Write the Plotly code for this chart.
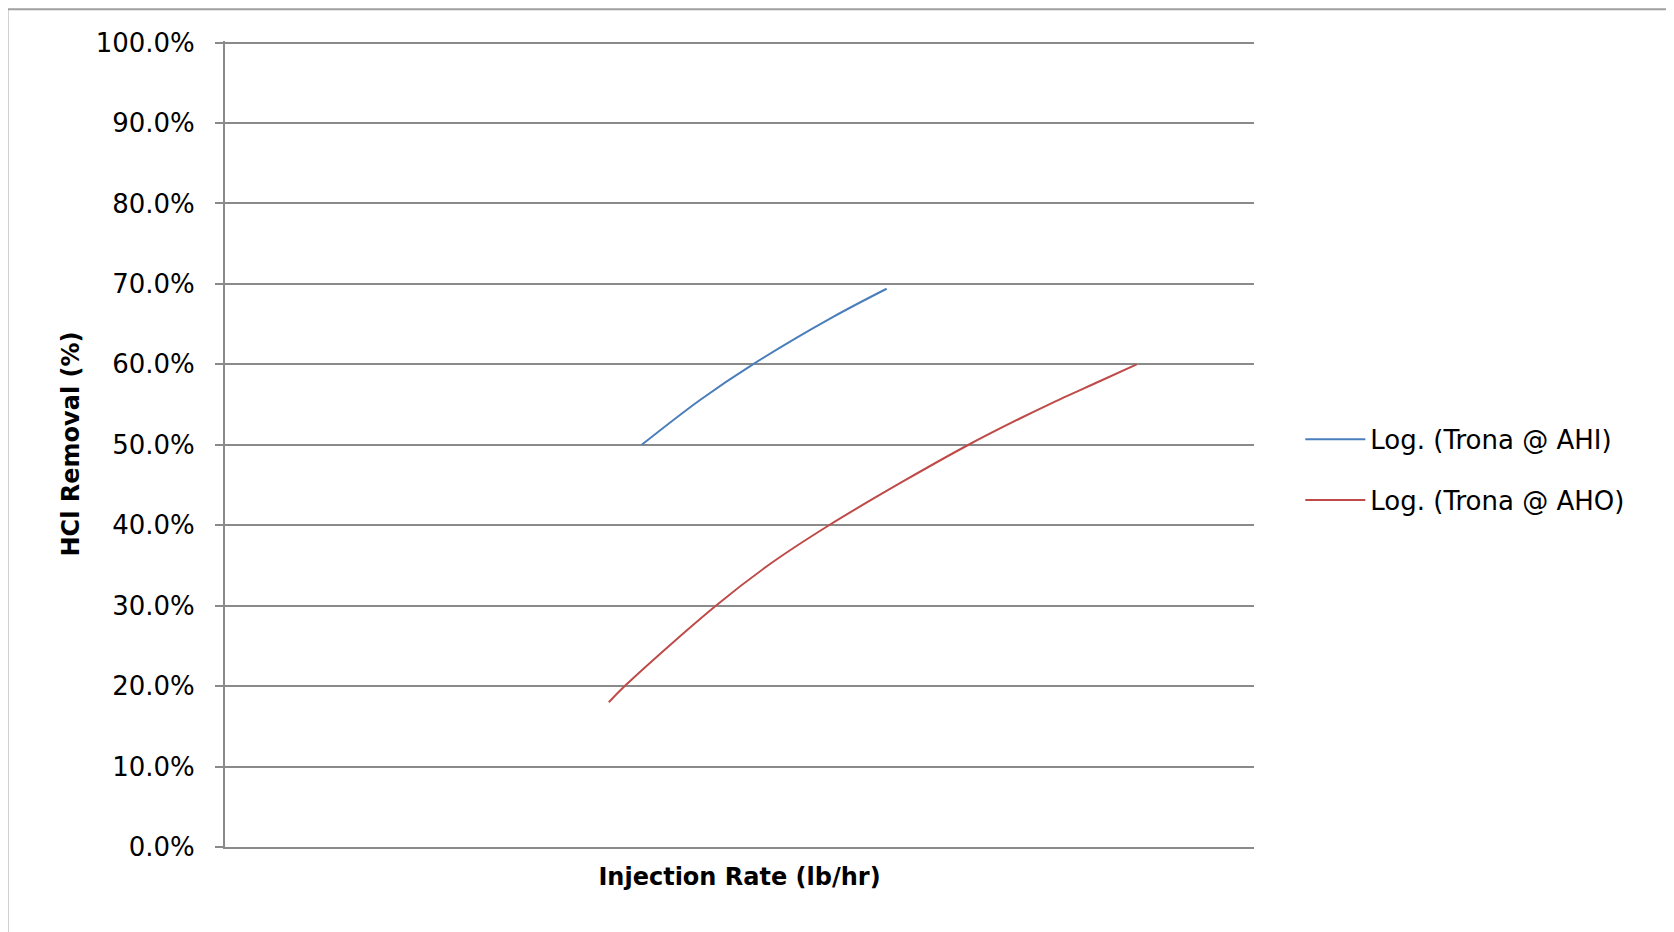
import plotly.graph_objects as go

# Injection rate (relative units, no tick labels on the original axis)
ahi_x = [40.5, 46.2, 51.3, 59.1, 64.3]
ahi_y = [0.500, 0.556, 0.600, 0.659, 0.694]

aho_x = [37.3, 39.0, 47.7, 53.1, 58.7, 66.1, 72.4, 77.3, 80.2, 85.0, 88.6]
aho_y = [0.180, 0.202, 0.300, 0.353, 0.400, 0.456, 0.501, 0.533, 0.551, 0.579, 0.600]

series_names = ["Log. (Trona @ AHI)", "Log. (Trona @ AHO)"]
y_ticks = [0.0, 0.1, 0.2, 0.3, 0.4, 0.5, 0.6, 0.7, 0.8, 0.9, 1.0]

BLUE = "#4a7ebb"
RED = "#be4b48"
GRID = "#8a8a8a"
FONT = "DejaVu Sans"

fig = go.Figure()
fig.add_trace(go.Scatter(x=ahi_x, y=ahi_y, mode="lines", name=series_names[0],
                         line=dict(color=BLUE, width=2, shape="spline"),
                         legendgroup="a"))
fig.add_trace(go.Scatter(x=aho_x, y=aho_y, mode="lines", name=series_names[1],
                         line=dict(color=RED, width=2, shape="spline"),
                         legendgroup="b"))

fig.update_layout(
    width=1674, height=932,
    margin=dict(l=217, r=428, t=33, b=93),
    paper_bgcolor="white", plot_bgcolor="white",
    font=dict(family=FONT, size=26, color="#000000"),
    showlegend=True,
    legend=dict(x=1.045, y=0.468, xanchor="left", yanchor="middle",
                traceorder="grouped", tracegroupgap=24, itemwidth=60,
                font=dict(family=FONT, size=26, color="#000000"),
                bgcolor="rgba(0,0,0,0)"),
    xaxis=dict(range=[0, 100], showticklabels=False, showgrid=False,
               showline=True, linecolor=GRID, linewidth=2, ticks="",
               zeroline=False,
               title=dict(text="<b>Injection Rate (lb/hr)</b>", standoff=20,
                          font=dict(family=FONT, size=24))),
    yaxis=dict(range=[0, 1.002], tickvals=y_ticks, tickformat=".1%",
               showgrid=True, gridcolor=GRID, gridwidth=2,
               showline=True, linecolor=GRID, linewidth=2,
               ticks="outside", ticklen=8, tickcolor=GRID, tickwidth=2,
               ticklabelstandoff=15,
               zeroline=False,
               tickfont=dict(family=FONT, size=26),
               title=dict(text="<b>HCl Removal (%)</b>", standoff=9,
                          font=dict(family=FONT, size=24))),
    shapes=[dict(type="rect", xref="paper", yref="paper",
                 x0=-0.2114, x1=1.402, y0=-0.2, y1=1.0395,
                 line=dict(color="#a0a0a0", width=2), fillcolor="rgba(0,0,0,0)",
                 layer="below")],
)

fig.write_html("out.html")
